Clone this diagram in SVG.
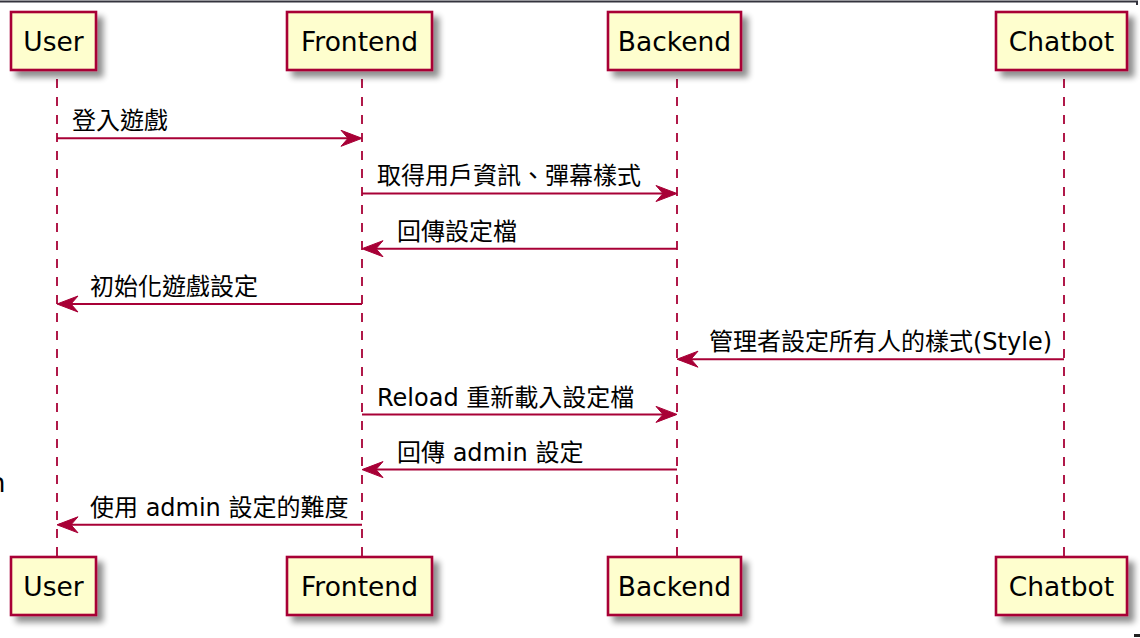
<svg xmlns="http://www.w3.org/2000/svg" width="1140" height="638" viewBox="0 0 1140 638">
<defs>
<filter id="sh" x="-20%" y="-20%" width="150%" height="160%">
<feGaussianBlur in="SourceAlpha" stdDeviation="3"/>
<feOffset dx="6" dy="6" result="b"/>
<feComponentTransfer><feFuncA type="linear" slope="0.45"/></feComponentTransfer>
<feMerge><feMergeNode/><feMergeNode in="SourceGraphic"/></feMerge>
</filter>
</defs>
<style>
.box{fill:#FEFECE;stroke:#A80036;stroke-width:2.6}
.pl{font-family:"DejaVu Sans","Noto Sans CJK TC",sans-serif;font-size:26.5px;fill:#000;text-anchor:middle}
.life{stroke:#A80036;stroke-width:1.8;stroke-dasharray:9 9;fill:none}
.msg{stroke:#A80036;stroke-width:2;fill:none}
.head{fill:#A80036;stroke:#A80036;stroke-width:1}
.ml{font-family:"DejaVu Sans","Noto Sans CJK TC",sans-serif;font-size:24px;fill:#000}
</style>
<rect width="1140" height="638" fill="#fff"/>
<path d="M0 1.5H1137V5" stroke="#33333d" stroke-width="2" fill="none"/>
<text x="-11" y="492" font-family="DejaVu Sans,sans-serif" font-size="26" fill="#000">n</text>
<rect x="1134" y="634" width="6" height="3" fill="#222"/>

<g id="lifelines">
<line class="life" x1="57" y1="79" x2="57" y2="557"/>
<line class="life" x1="362" y1="79" x2="362" y2="557"/>
<line class="life" x1="677" y1="79" x2="677" y2="557"/>
<line class="life" x1="1064" y1="79" x2="1064" y2="557"/>
</g>

<g id="user">
<rect class="box" x="11" y="12" width="85" height="58" filter="url(#sh)"/>
<text class="pl" x="53.5" y="51">User</text>
<rect class="box" x="11" y="557" width="85" height="58" filter="url(#sh)"/>
<text class="pl" x="53.5" y="596">User</text>
</g>
<g id="frontend">
<rect class="box" x="287" y="12" width="145" height="58" filter="url(#sh)"/>
<text class="pl" x="359.5" y="51">Frontend</text>
<rect class="box" x="287" y="557" width="145" height="58" filter="url(#sh)"/>
<text class="pl" x="359.5" y="596">Frontend</text>
</g>
<g id="backend">
<rect class="box" x="608" y="12" width="133" height="58" filter="url(#sh)"/>
<text class="pl" x="674.5" y="51">Backend</text>
<rect class="box" x="608" y="557" width="133" height="58" filter="url(#sh)"/>
<text class="pl" x="674.5" y="596">Backend</text>
</g>
<g id="chatbot">
<rect class="box" x="996" y="12" width="131" height="58" filter="url(#sh)"/>
<text class="pl" x="1061.5" y="51">Chatbot</text>
<rect class="box" x="996" y="557" width="131" height="58" filter="url(#sh)"/>
<text class="pl" x="1061.5" y="596">Chatbot</text>
</g>

<g id="connectors">
<line class="msg" x1="57" y1="138.3" x2="360" y2="138.3"/>
<polygon class="head" points="362,138.3 341,130.3 348,138.3 341,146.3"/>
<text class="ml" x="72" y="129">登入遊戲</text>

<line class="msg" x1="362" y1="193.5" x2="675" y2="193.5"/>
<polygon class="head" points="677,193.5 656,185.5 663,193.5 656,201.5"/>
<text class="ml" x="377" y="184">取得用戶資訊、彈幕樣式</text>

<line class="msg" x1="677" y1="248.7" x2="364" y2="248.7"/>
<polygon class="head" points="362,248.7 383,240.7 376,248.7 383,256.7"/>
<text class="ml" x="397" y="239.5">回傳設定檔</text>

<line class="msg" x1="362" y1="304" x2="59" y2="304"/>
<polygon class="head" points="57,304 78,296 71,304 78,312"/>
<text class="ml" x="90" y="295">初始化遊戲設定</text>

<line class="msg" x1="1064" y1="359.2" x2="679" y2="359.2"/>
<polygon class="head" points="677,359.2 698,351.2 691,359.2 698,367.2"/>
<text class="ml" x="709" y="350">管理者設定所有人的樣式(Style)</text>

<line class="msg" x1="362" y1="414.4" x2="675" y2="414.4"/>
<polygon class="head" points="677,414.4 656,406.4 663,414.4 656,422.4"/>
<text class="ml" x="377" y="405.5">Reload 重新載入設定檔</text>

<line class="msg" x1="677" y1="469.6" x2="364" y2="469.6"/>
<polygon class="head" points="362,469.6 383,461.6 376,469.6 383,477.6"/>
<text class="ml" x="397" y="460.5">回傳 admin 設定</text>

<line class="msg" x1="362" y1="524.8" x2="59" y2="524.8"/>
<polygon class="head" points="57,524.8 78,516.8 71,524.8 78,532.8"/>
<text class="ml" x="90" y="515.5">使用 admin 設定的難度</text>
</g>
</svg>
